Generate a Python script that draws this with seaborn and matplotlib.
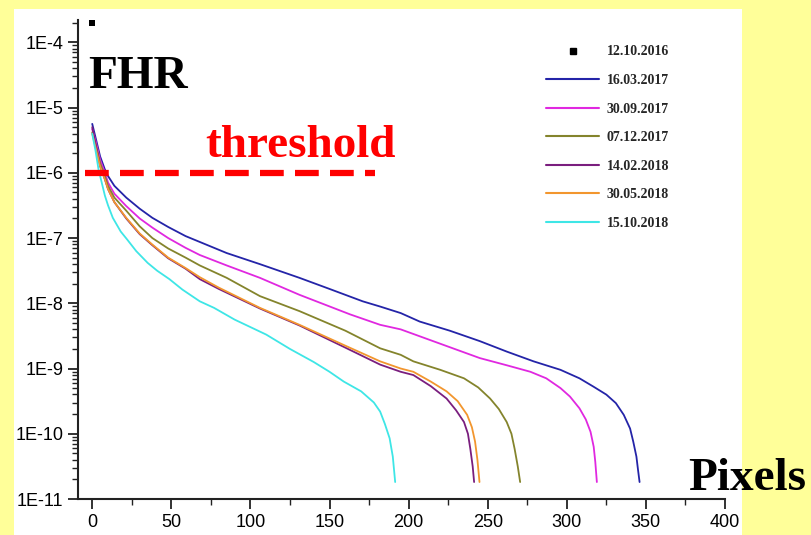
import numpy as np
import pandas as pd
import matplotlib.pyplot as plt
import matplotlib.ticker as mticker
from matplotlib.lines import Line2D
import seaborn as sns

# FHR curves: x in pixels, FHR given as log10 exponents
blue_x = [0, 2, 5, 8, 10, 14, 21.5, 30, 38, 48, 59, 70, 85, 106, 131, 150, 171, 182, 195, 207, 226,
          245, 262, 279, 296, 308, 317, 325, 331, 336, 340, 342, 344, 345, 346]
blue_log = [-5.25, -5.45, -5.75, -5.95, -6.05, -6.2, -6.38, -6.55, -6.69, -6.83, -6.97, -7.08, -7.23,
            -7.40, -7.61, -7.78, -7.97, -8.05, -8.15, -8.28, -8.42, -8.58, -8.74, -8.89, -9.02, -9.15,
            -9.28, -9.40, -9.53, -9.71, -9.92, -10.12, -10.35, -10.55, -10.74]

magenta_x = [0, 2, 5, 8, 10, 14, 21.5, 30, 38, 48, 59, 68, 85, 106, 131, 163, 182, 195, 220, 245, 262,
             277, 287, 296, 302, 308, 312, 315, 317, 318, 319]
magenta_log = [-5.33, -5.5, -5.8, -6.0, -6.15, -6.32, -6.51, -6.7, -6.84, -7.0, -7.15, -7.26, -7.42,
               -7.61, -7.87, -8.17, -8.33, -8.40, -8.62, -8.84, -8.95, -9.05, -9.15, -9.30, -9.43,
               -9.61, -9.78, -9.97, -10.2, -10.43, -10.74]

olive_x = [0, 2, 5, 8, 10, 14, 21.5, 30, 38, 48, 59, 68, 85, 106, 131, 160, 182, 195, 203, 220, 235,
           244, 251.5, 257, 262, 265, 267, 269, 270.5]
olive_log = [-5.38, -5.55, -5.85, -6.05, -6.2, -6.38, -6.58, -6.82, -7.0, -7.16, -7.30, -7.42, -7.61,
             -7.89, -8.12, -8.42, -8.69, -8.79, -8.89, -9.02, -9.15, -9.29, -9.46, -9.62, -9.82,
             -10.0, -10.23, -10.5, -10.74]

purple_x = [0, 2, 5, 8, 10, 14, 21.5, 30, 38, 48, 59, 68, 80, 106, 131, 160, 182, 195, 203, 214, 224,
            230, 235, 237.5, 239, 240.5, 241.4]
purple_log = [-5.3, -5.55, -5.9, -6.1, -6.25, -6.45, -6.7, -6.94, -7.11, -7.31, -7.47, -7.63, -7.78,
              -8.08, -8.34, -8.68, -8.94, -9.05, -9.10, -9.27, -9.46, -9.64, -9.82, -10.0, -10.23,
              -10.5, -10.74]

orange_x = [0, 2, 5, 8, 10, 14, 21.5, 30, 38, 48, 59, 68, 80, 106, 131, 160, 182, 195, 203, 214, 224,
            231, 237, 240, 242, 243.5, 244.8]
orange_log = [-5.4, -5.6, -5.9, -6.1, -6.25, -6.45, -6.69, -6.93, -7.10, -7.30, -7.46, -7.60, -7.76,
              -8.07, -8.33, -8.65, -8.89, -9.0, -9.05, -9.2, -9.35, -9.5, -9.71, -9.9, -10.12,
              -10.4, -10.74]

cyan_x = [0, 2, 4, 6, 8, 10, 13, 18, 22, 27.8, 35, 41, 48.8, 57, 68, 77, 90, 110, 125, 140, 150, 159,
          170, 178, 182, 185, 188, 190, 191.5]
cyan_log = [-5.40, -5.65, -5.95, -6.15, -6.35, -6.5, -6.69, -6.9, -7.02, -7.2, -7.38, -7.5, -7.63,
            -7.79, -7.97, -8.07, -8.25, -8.48, -8.7, -8.9, -9.05, -9.2, -9.35, -9.52, -9.66, -9.85,
            -10.07, -10.35, -10.74]

first_date = "12.10.2016"
first_x = [0]
first_fhr = [2.0e-4]

dates = ["16.03.2017", "30.09.2017", "07.12.2017", "14.02.2018", "30.05.2018", "15.10.2018"]
colors = ["#2424A8", "#E028E0", "#84842C", "#7A1E7E", "#F2962E", "#3EE6E6"]
series = [(blue_x, blue_log), (magenta_x, magenta_log), (olive_x, olive_log),
          (purple_x, purple_log), (orange_x, orange_log), (cyan_x, cyan_log)]

threshold = 1e-6
threshold_x = [-4.5, 179]

y_decades = list(range(-11, -3))


def main() -> None:
    sns.set_style("ticks")
    plt.rcParams["font.family"] = ["Liberation Sans", "DejaVu Sans"]

    frames = []
    for date, (xs, logs) in zip(dates, series):
        frames.append(pd.DataFrame({"Pixels": xs, "FHR": 10.0 ** np.array(logs), "date": date}))
    df = pd.concat(frames, ignore_index=True)

    fig = plt.figure(figsize=(8.11, 5.35), dpi=100)
    fig.patch.set_facecolor("#FFFF99")
    # white panel behind the chart
    bg = fig.add_axes([14 / 811, 0, (742 - 14) / 811, (535 - 9) / 535], zorder=-5)
    bg.set_facecolor("white")
    bg.set_xticks([])
    bg.set_yticks([])
    for s in bg.spines.values():
        s.set_visible(False)

    ax = fig.add_axes([78 / 811, 36 / 535, (725 - 78) / 811, (515 - 36) / 535])
    ax.set_facecolor("none")

    sns.scatterplot(x=first_x, y=first_fhr, marker="s", color="black", s=18,
                    edgecolor="none", ax=ax, legend=False)
    sns.lineplot(data=df, x="Pixels", y="FHR", hue="date", hue_order=dates,
                 palette=dict(zip(dates, colors)), estimator=None, sort=False,
                 linewidth=1.3, ax=ax, legend=False)

    ax.plot(threshold_x, [threshold, threshold], color="red", linewidth=4.5,
            dashes=(3.8, 1.8), solid_capstyle="butt", dash_capstyle="butt")

    ax.set_yscale("log")
    ax.set_ylim(1e-11, 2.2e-4)
    ax.set_xlim(-9, 400)
    ax.set_yticks([10.0 ** d for d in y_decades])
    ax.yaxis.set_major_formatter(mticker.FuncFormatter(lambda v, p: f"1E{int(round(np.log10(v)))}"))
    ax.yaxis.set_minor_locator(mticker.LogLocator(base=10, subs=np.arange(2, 10), numticks=20))
    ax.yaxis.set_minor_formatter(mticker.NullFormatter())
    ax.set_xticks(np.arange(0, 401, 50))
    ax.xaxis.set_minor_locator(mticker.MultipleLocator(25))
    ax.set_xlabel("")
    ax.set_ylabel("")

    sns.despine(ax=ax)
    for side in ["left", "bottom"]:
        ax.spines[side].set_linewidth(1.5)
        ax.spines[side].set_color("#222222")
    ax.tick_params(axis="both", which="major", direction="out", length=7, width=1.3,
                   labelsize=13, colors="#222222", labelcolor="black")
    ax.tick_params(axis="both", which="minor", direction="out", length=4, width=1.0,
                   colors="#222222")

    handles = [Line2D([], [], linestyle="none", marker="s", markersize=4, color="black")]
    handles += [Line2D([], [], color=c, linewidth=1.5) for c in colors]
    ax.legend(handles, [first_date] + dates, loc="upper right", bbox_to_anchor=(0.933, 0.973),
              frameon=False, handlelength=3.8, handletextpad=0.55, labelspacing=1.12,
              prop={"family": "Liberation Serif", "weight": "bold", "size": 10})

    serif = {"family": "Liberation Serif", "weight": "bold", "size": 34}
    fig.text(88 / 811, (535 - 88) / 535, "FHR", color="black", va="baseline", **serif)
    fig.text(205 / 811, (535 - 157) / 535, "threshold", color="red", va="baseline", **serif)
    fig.text(688 / 811, (535 - 490) / 535, "Pixels", color="black", va="baseline", **serif)

    fig.savefig("out.png", dpi=100, facecolor=fig.get_facecolor())


if __name__ == "__main__":
    main()
